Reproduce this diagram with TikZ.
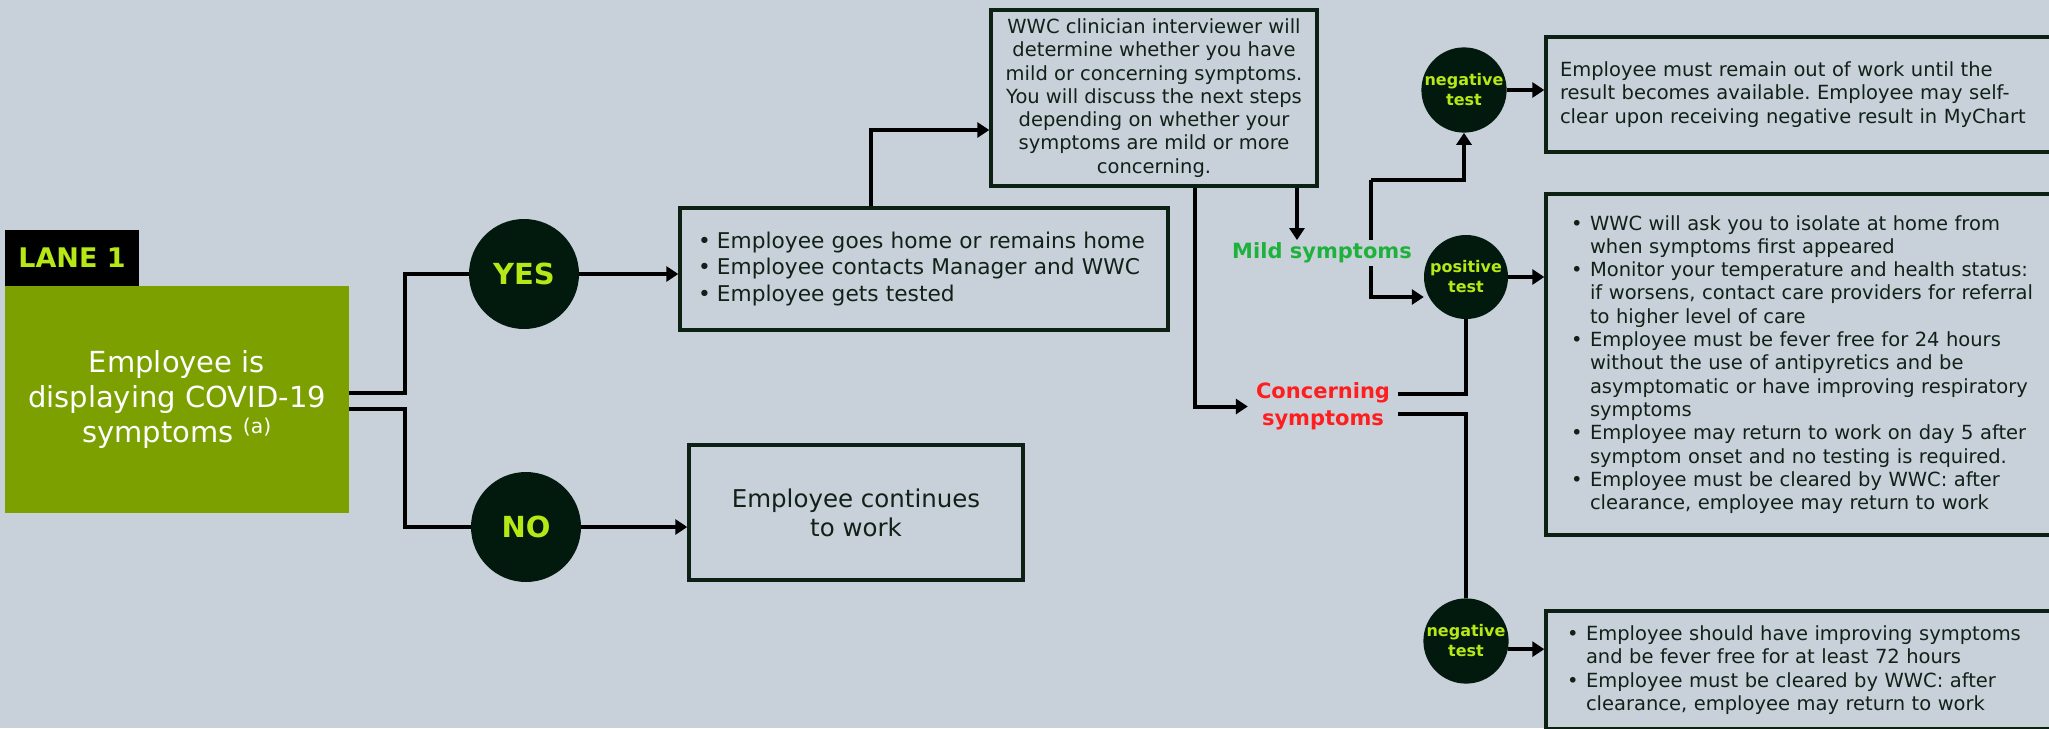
\documentclass[tikz,border=0pt]{standalone}
\usepackage{fontspec}
\setmainfont{DejaVu Sans}
\usetikzlibrary{arrows.meta}
\frenchspacing

\definecolor{bg}{RGB}{200,208,218}
\definecolor{leaf}{RGB}{123,160,0}
\definecolor{limetext}{RGB}{182,232,22}
\definecolor{dark}{RGB}{2,26,14}
\definecolor{ink}{RGB}{16,34,24}
\definecolor{boxline}{RGB}{12,32,20}
\definecolor{mildgreen}{RGB}{30,178,60}
\definecolor{alert}{RGB}{255,30,30}

\newcommand{\bitem}{\makebox[19pt][l]{\textbullet}}
\newcommand{\bcont}{\hspace*{19pt}}

\begin{document}
\begin{tikzpicture}[x=1pt, y=-1pt,
	box/.style={draw=boxline, line width=3.5pt, inner sep=0pt, text=ink, align=left,
		font=\fontsize{19.5}{23.3}\selectfont},
	answer/.style={circle, fill=dark, minimum size=110pt, inner sep=0pt, text=limetext,
		font=\bfseries\fontsize{29}{34}\selectfont},
	test/.style={circle, fill=dark, minimum size=84pt, inner sep=0pt, text=limetext, align=center,
		font=\bfseries\fontsize{16}{20}\selectfont},
	link/.style={line width=4pt},
	arr/.style={link, -{Triangle[length=12pt,width=15pt]}}]

	\path[use as bounding box] (0,0) rectangle (2049,728);
	\clip (0,0) rectangle (2049,728);
	\fill[bg] (0,0) rectangle (2049,728);

	\node[fill=black, text=limetext, font=\bfseries\fontsize{27}{32}\selectfont,
		minimum width=134pt, minimum height=56pt, inner sep=0pt] (lane) at (72,258) {LANE 1};
	\node[fill=leaf, text=white, align=center, font=\fontsize{29}{35}\selectfont,
		minimum width=344pt, minimum height=227pt, inner sep=0pt] (symp) at (177,399.5)
		{Employee is\\displaying COVID-19\\symptoms \textsuperscript{(a)}};

	\node[answer] (yes) at (524,274) {YES};
	\node[answer] (no) at (526,527) {NO};

	\node[box, minimum width=488pt, minimum height=122pt, inner xsep=18pt, text width=452pt,
		font=\fontsize{21.7}{26.5}\selectfont] (home) at (924,269)
		{\bitem Employee goes home or remains home\\
		 \bitem Employee contacts Manager and WWC\\
		 \bitem Employee gets tested};
	\node[box, minimum width=334pt, minimum height=135pt, align=center,
		font=\fontsize{24.5}{29}\selectfont] (work) at (856,512.5) {Employee continues\\to work};
	\node[box, minimum width=326pt, minimum height=176pt, align=center] (wwc) at (1154,98)
		{WWC clinician interviewer will\\determine whether you have\\mild or concerning symptoms.\\
		 You will discuss the next steps\\depending on whether your\\symptoms are mild or more\\concerning.};

	\foreach \name/\x/\y/\txt in {neg1/1464/90/negative, pos/1466/277/positive, neg2/1466/641/negative}
		\node[test] (\name) at (\x,\y) {\txt\\test};

	\node[box, minimum width=514pt, minimum height=115pt, inner xsep=14pt, text width=486pt] (res1) at (1803,94.5)
		{Employee must remain out of work until the\\result becomes available. Employee may self-\\
		 clear upon receiving negative result in MyChart};
	\node[box, minimum width=514pt, minimum height=341pt, inner xsep=25pt, text width=464pt] (res2) at (1803,364.5)
		{\bitem WWC will ask you to isolate at home from\\
		 \bcont when symptoms first appeared\\
		 \bitem Monitor your temperature and health status:\\
		 \bcont if worsens, contact care providers for referral\\
		 \bcont to higher level of care\\
		 \bitem Employee must be fever free for 24 hours\\
		 \bcont without the use of antipyretics and be\\
		 \bcont asymptomatic or have improving respiratory\\
		 \bcont symptoms\\
		 \bitem Employee may return to work on day 5 after\\
		 \bcont symptom onset and no testing is required.\\
		 \bitem Employee must be cleared by WWC: after\\
		 \bcont clearance, employee may return to work};
	\node[box, minimum width=514pt, minimum height=118pt, inner xsep=21pt, text width=472pt] (res3) at (1803,670)
		{\bitem Employee should have improving symptoms\\
		 \bcont and be fever free for at least 72 hours\\
		 \bitem Employee must be cleared by WWC: after\\
		 \bcont clearance, employee may return to work};

	\coordinate (mtop) at (1371,180);
	\coordinate (mbot) at (1371,297);
	\draw[arr] (mtop) -| (neg1);
	\draw[arr] (mtop) |- (mbot -| pos.west);

	\node[fill=bg, inner sep=2.5pt, text=mildgreen, font=\bfseries\fontsize{21}{27}\selectfont] (mild) at (1322,253) {Mild symptoms};
	\node[inner xsep=8pt, inner ysep=2pt, text=alert, align=center, font=\bfseries\fontsize{21}{27}\selectfont] (conc) at (1323,406.5) {Concerning\\symptoms};

	\draw[link] ([yshift=6.5pt]symp.east) -- ++(56,0) |- (yes);
	\draw[link] ([yshift=-9.5pt]symp.east) -- ++(56,0) |- (no);
	\draw[arr] (yes.east) -- (yes.east -| home.west);
	\draw[arr] (no.east) -- (no.east -| work.west);
	\draw[arr] ([xshift=-53pt]home.north) |- ([yshift=-32pt]wwc.west);
	\draw[arr] ([xshift=143pt]wwc.south) -- ([xshift=143pt]wwc.south |- mild.north);
	\draw[arr] ([xshift=41pt]wwc.south) |- (conc.west);

	\draw[link] ([yshift=13pt]conc.east) -| (pos);
	\draw[link] ([yshift=-7pt]conc.east) -| (neg2);

	\draw[arr] (neg1.east) -- (neg1.east -| res1.west);
	\draw[arr] (pos.east) -- (pos.east -| res2.west);
	\draw[arr] (neg2.-11) -- (neg2.-11 -| res3.west);

\end{tikzpicture}
\end{document}
